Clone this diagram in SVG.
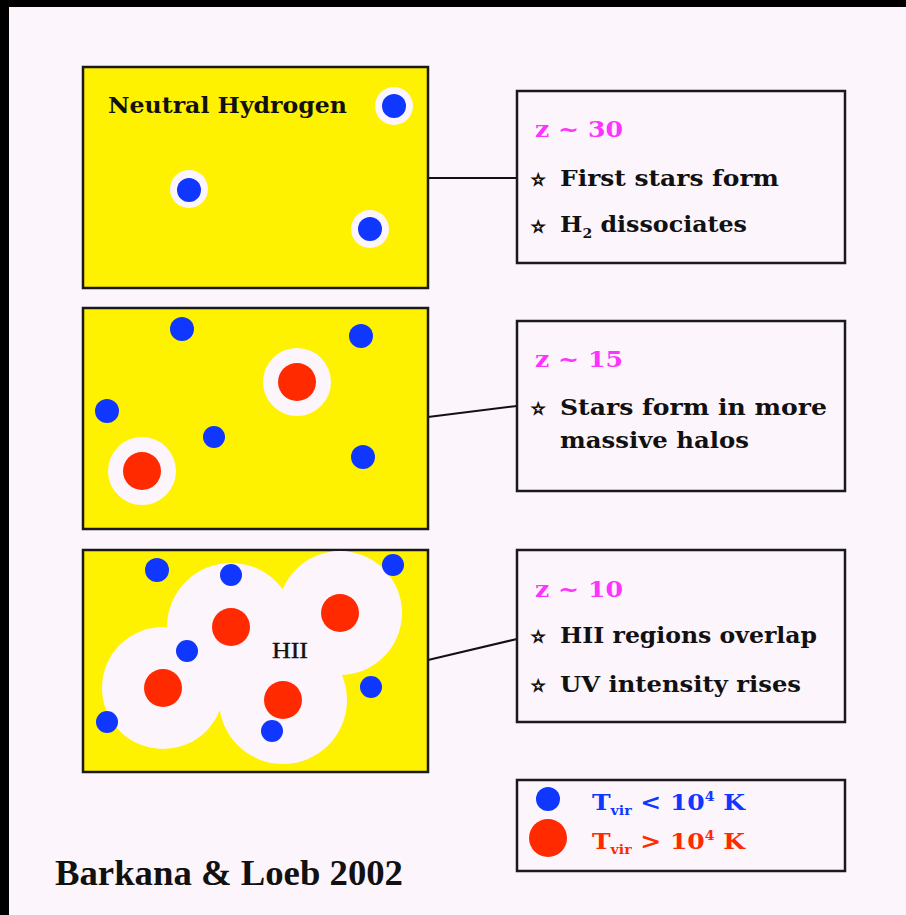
<svg xmlns="http://www.w3.org/2000/svg" width="906" height="915" viewBox="0 0 906 915">
<style>
.bg{fill:#fdf5fc}
.panel{fill:#fff200;stroke:#1a1a1a;stroke-width:2.5}
.box{fill:#fdf5fc;stroke:#1a1a1a;stroke-width:2.5}
.halo{fill:#fdf5fc}
.blue{fill:#0f37ff}
.red{fill:#ff2a00}
.conn{stroke:#111;stroke-width:2;fill:none}
.t{font-family:"DejaVu Serif","Liberation Serif",serif;font-size:22px;font-weight:bold;fill:#111}
.z{font-family:"DejaVu Serif","Liberation Serif",serif;font-size:23px;font-weight:bold;fill:#ff33ff}
.star{font-family:"DejaVu Sans",sans-serif;font-size:16px;font-weight:bold;fill:#111;stroke:#111;stroke-width:1.1}
.lb{font-family:"DejaVu Serif","Liberation Serif",serif;font-size:23px;font-weight:bold}
.sub{font-size:13px}
</style>
<rect x="0" y="0" width="906" height="915" fill="#000"/>
<rect class="bg" x="9" y="7" width="897" height="908"/>

<g id="connectors">
<line class="conn" x1="428" y1="178" x2="517" y2="178"/>
<line class="conn" x1="428" y1="417" x2="517" y2="406"/>
<line class="conn" x1="428" y1="660" x2="517" y2="639"/>
</g>

<g id="panel1">
<rect class="panel" x="83" y="67" width="345" height="221"/>
<text class="t" x="108" y="113" textLength="239" lengthAdjust="spacingAndGlyphs">Neutral Hydrogen</text>
<circle class="halo" cx="394" cy="106" r="19"/><circle class="blue" cx="394" cy="106" r="12"/>
<circle class="halo" cx="189" cy="189" r="19"/><circle class="blue" cx="189" cy="190" r="12"/>
<circle class="halo" cx="370" cy="229" r="19"/><circle class="blue" cx="370" cy="229" r="12"/>
</g>

<g id="panel2">
<rect class="panel" x="83" y="308" width="345" height="221"/>
<circle class="blue" cx="182" cy="329" r="12"/>
<circle class="blue" cx="361" cy="336" r="12"/>
<circle class="blue" cx="107" cy="411" r="12"/>
<circle class="blue" cx="214" cy="437" r="11"/>
<circle class="blue" cx="363" cy="457" r="12"/>
<circle class="halo" cx="297" cy="382" r="34"/><circle class="red" cx="297" cy="382" r="19"/>
<circle class="halo" cx="142" cy="471" r="34"/><circle class="red" cx="142" cy="471" r="19"/>
</g>

<g id="panel3">
<rect class="panel" x="83" y="550" width="345" height="222"/>
<circle class="halo" cx="231" cy="627" r="64"/>
<circle class="halo" cx="340" cy="613" r="62"/>
<circle class="halo" cx="163" cy="688" r="61"/>
<circle class="halo" cx="283" cy="700" r="64"/>
<circle class="red" cx="231" cy="627" r="19"/>
<circle class="red" cx="340" cy="613" r="19"/>
<circle class="red" cx="163" cy="688" r="19"/>
<circle class="red" cx="283" cy="700" r="19"/>
<circle class="blue" cx="157" cy="570" r="12"/>
<circle class="blue" cx="231" cy="575" r="11"/>
<circle class="blue" cx="393" cy="565" r="11"/>
<circle class="blue" cx="187" cy="651" r="11"/>
<circle class="blue" cx="371" cy="687" r="11"/>
<circle class="blue" cx="107" cy="722" r="11"/>
<circle class="blue" cx="272" cy="731" r="11"/>
<text x="290" y="658" text-anchor="middle" font-family="Liberation Serif, serif" font-size="23" fill="#111" stroke="#111" stroke-width="0.4" textLength="36" lengthAdjust="spacingAndGlyphs">HII</text>
</g>

<g id="box1">
<rect class="box" x="517" y="91" width="328" height="172"/>
<text class="z" x="535" y="137" textLength="88" lengthAdjust="spacingAndGlyphs">z ~ 30</text>
<text class="star" x="531" y="185">☆</text>
<text class="t" x="560" y="186" textLength="219" lengthAdjust="spacingAndGlyphs">First stars form</text>
<text class="star" x="531" y="232">☆</text>
<text class="t" x="560" y="232" textLength="187" lengthAdjust="spacingAndGlyphs">H<tspan class="sub" dy="6">2</tspan><tspan dy="-6"> dissociates</tspan></text>
</g>

<g id="box2">
<rect class="box" x="517" y="321" width="328" height="170"/>
<text class="z" x="535" y="367" textLength="88" lengthAdjust="spacingAndGlyphs">z ~ 15</text>
<text class="star" x="531" y="414">☆</text>
<text class="t" x="560" y="415" textLength="267" lengthAdjust="spacingAndGlyphs">Stars form in more</text>
<text class="t" x="560" y="448" textLength="189" lengthAdjust="spacingAndGlyphs">massive halos</text>
</g>

<g id="box3">
<rect class="box" x="517" y="550" width="328" height="172"/>
<text class="z" x="535" y="597" textLength="88" lengthAdjust="spacingAndGlyphs">z ~ 10</text>
<text class="star" x="531" y="642">☆</text>
<text class="t" x="560" y="643" textLength="257" lengthAdjust="spacingAndGlyphs">HII regions overlap</text>
<text class="star" x="531" y="691">☆</text>
<text class="t" x="560" y="692" textLength="241" lengthAdjust="spacingAndGlyphs">UV intensity rises</text>
</g>

<g id="legend">
<rect class="box" x="517" y="780" width="328" height="91"/>
<circle class="blue" cx="548" cy="799" r="12"/>
<circle class="red" cx="548" cy="838" r="19"/>
<text class="lb" x="592" y="810" fill="#0f37ff" textLength="153" lengthAdjust="spacingAndGlyphs">T<tspan class="sub" dy="5">vir</tspan><tspan dy="-5"> &lt; 10</tspan><tspan class="sub" dy="-9">4</tspan><tspan dy="9"> K</tspan></text>
<text class="lb" x="592" y="849" fill="#ff2a00" textLength="153" lengthAdjust="spacingAndGlyphs">T<tspan class="sub" dy="5">vir</tspan><tspan dy="-5"> &gt; 10</tspan><tspan class="sub" dy="-9">4</tspan><tspan dy="9"> K</tspan></text>
</g>

<g id="credit">
<text x="55" y="885" font-family="Liberation Serif, serif" font-size="36" font-weight="bold" fill="#111" textLength="348" lengthAdjust="spacingAndGlyphs">Barkana &amp; Loeb 2002</text>
</g>
</svg>
